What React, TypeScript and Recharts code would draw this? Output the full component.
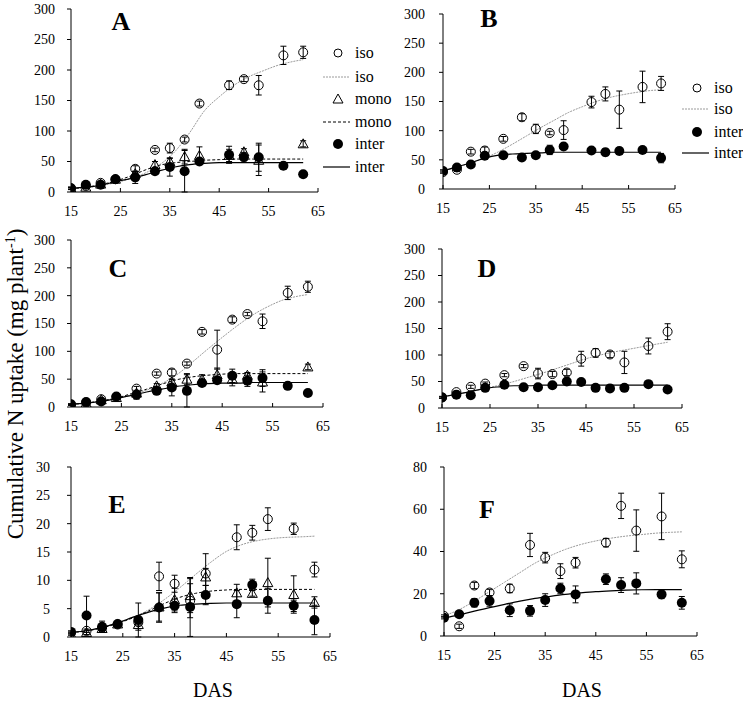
import React from 'react';
import { ComposedChart, Line, Scatter, XAxis, YAxis, ErrorBar } from 'recharts';

const DAYS = [15, 18, 21, 24, 28, 32, 35, 38, 41, 47, 50, 53, 58, 62];
const DAYS_44 = [15, 18, 21, 24, 28, 32, 35, 38, 41, 44, 47, 50, 53, 58, 62];
const CURVE_DAYS = [15, 18, 21, 24, 27, 30, 33, 36, 39, 42, 45, 48, 51, 54, 57, 60, 62];
const X_TICKS = [15, 25, 35, 45, 55, 65];
const Y_TICKS_300 = [0, 50, 100, 150, 200, 250, 300];
const Y_TICKS_30 = [0, 5, 10, 15, 20, 25, 30];
const Y_TICKS_80 = [0, 20, 40, 60, 80];

// Panel A
const A_ISO = [6, 10, 15, 21, 38, 69, 72, 86, 145, 175, 185, 175, 224, 229];
const A_ISO_ERR = [2, 2, 2, 2, 5, 3, 8, 4, 4, 7, 4, 16, 15, 10];
const A_MONO_DAYS = [15, 18, 21, 24, 28, 32, 35, 38, 41, 47, 50, 53, 62];
const A_MONO = [6, 8, 13, 21, 30, 45, 50, 58, 60, 60, 66, 52, 79];
const A_MONO_ERR = [1, 2, 2, 2, 4, 5, 5, 12, 14, 10, 5, 25, 5];
const A_INTER = [6, 12, 12, 21, 24, 34, 41, 34, 50, 61, 57, 57, 43, 29];
const A_INTER_ERR = [2, 3, 3, 2, 10, 4, 15, 34, 4, 14, 8, 23, 2, 2];
const A_ISO_FIT = [5, 7, 11, 15, 22, 31, 45, 66, 97, 133, 156, 175, 189, 199, 208, 214, 217];
const A_MONO_FIT = [6, 8, 12, 18, 26, 36, 44, 48, 50, 52, 53, 54, 54, 54, 54, 54, 54];
const A_INTER_FIT = [6, 8, 11, 17, 22, 28, 35, 41, 45, 47, 48, 48, 48, 48, 48, 48, 48];

// Panel B
const B_ISO = [29, 33, 64, 66, 86, 123, 103, 96, 101, 149, 163, 136, 175, 181];
const B_ISO_ERR = [2, 3, 4, 6, 4, 6, 8, 3, 16, 10, 12, 32, 27, 12];
const B_INTER = [31, 37, 42, 57, 58, 54, 58, 67, 73, 66, 63, 65, 67, 53];
const B_INTER_ERR = [2, 3, 3, 5, 3, 4, 3, 8, 3, 3, 6, 6, 3, 8];
const B_ISO_FIT = [31, 37, 45, 53, 64, 77, 91, 105, 118, 131, 141, 150, 157, 162, 166, 169, 170];
const B_INTER_FIT = [31, 38, 45, 53, 58, 60, 61, 62, 63, 63, 63, 63, 63, 63, 63, 63, 63];

// Panel C
const C_ISO = [4, 8, 14, 18, 33, 60, 62, 78, 135, 103, 157, 167, 154, 205, 216];
const C_ISO_ERR = [1, 2, 2, 2, 4, 3, 6, 3, 4, 35, 5, 3, 13, 12, 10];
const C_MONO_DAYS = [15, 18, 21, 24, 28, 32, 35, 38, 41, 44, 47, 50, 53, 62];
const C_MONO = [4, 7, 13, 17, 25, 38, 45, 50, 50, 58, 50, 57, 45, 72];
const C_MONO_ERR = [1, 2, 2, 2, 3, 4, 5, 10, 8, 12, 12, 5, 18, 5];
const C_INTER = [5, 9, 10, 19, 22, 29, 35, 29, 43, 48, 56, 47, 52, 38, 25];
const C_INTER_ERR = [1, 2, 2, 2, 8, 3, 15, 29, 3, 3, 12, 10, 15, 2, 2];
const C_ISO_FIT = [5, 7, 11, 16, 22, 30, 42, 58, 80, 103, 125, 146, 165, 180, 192, 199, 202];
const C_MONO_FIT = [5, 7, 11, 16, 24, 32, 41, 49, 54, 57, 59, 60, 60, 60, 60, 60, 60];
const C_INTER_FIT = [5, 7, 10, 15, 21, 27, 32, 37, 40, 42, 43, 43, 44, 44, 44, 44, 44];

// Panel D
const D_ISO = [20, 30, 40, 46, 62, 79, 65, 64, 67, 93, 104, 101, 86, 117, 144];
const D_ISO_ERR = [2, 2, 3, 3, 3, 3, 10, 5, 6, 14, 8, 6, 21, 15, 15];
const D_INTER = [20, 25, 24, 38, 44, 39, 39, 43, 50, 49, 38, 37, 38, 45, 35];
const D_INTER_ERR = [1, 2, 2, 2, 2, 2, 2, 3, 2, 2, 2, 2, 2, 2, 2];
const D_ISO_FIT = [21, 26, 31, 37, 43, 50, 58, 66, 75, 84, 93, 100, 106, 111, 116, 121, 124];
const D_INTER_FIT = [21, 26, 31, 37, 40, 42, 42, 43, 43, 43, 43, 43, 43, 43, 43, 43, 43];

// Panel E
const E_ISO = [0.7, 1.1, 1.6, 2.2, 2.6, 10.7, 9.4, 6.4, 11.2, 17.6, 18.4, 20.8, 19.1, 11.9];
const E_ISO_ERR = [0.2, 0.3, 0.4, 0.3, 0.5, 2.5, 1.5, 3, 3.5, 2.2, 1.3, 2, 1, 1.3];
const E_MONO = [0.5, 0.8, 1.5, 2.3, 2.2, 5.3, 6.6, 7.3, 10.6, 7.8, 7.7, 9.6, 7.5, 6.1];
const E_MONO_ERR = [0.2, 0.4, 0.5, 0.3, 1, 2.5, 2, 3, 1.5, 1.5, 0.5, 4.3, 3.3, 1];
const E_INTER = [0.9, 3.8, 1.8, 2.3, 3.0, 5.2, 5.5, 5.3, 7.4, 5.8, 9.2, 6.4, 5.5, 3.0];
const E_INTER_ERR = [0.2, 3.4, 1, 0.3, 3, 2.6, 1.2, 5.2, 1.7, 2.4, 1, 2.2, 1, 2.6];
const E_ISO_FIT = [0.7, 1.1, 1.7, 2.5, 3.5, 4.8, 6.6, 8.7, 11, 13.2, 15.1, 16.3, 17, 17.4, 17.6, 17.7, 17.8];
const E_MONO_FIT = [0.8, 1.1, 1.6, 2.4, 3.4, 4.6, 5.9, 7, 7.7, 8.1, 8.3, 8.4, 8.4, 8.4, 8.4, 8.4, 8.4];
const E_INTER_FIT = [0.8, 1.1, 1.7, 2.5, 3.5, 4.4, 5.1, 5.6, 5.8, 5.95, 6, 6, 6, 6, 6, 6, 6];

// Panel F
const F_ISO = [9.5, 4.6, 23.9, 20.6, 22.5, 43.1, 37.1, 30.7, 34.7, 44.2, 61.6, 49.9, 56.6, 36.3];
const F_ISO_ERR = [0.5, 1, 1.5, 1.5, 2, 5.5, 2.5, 3.5, 2.5, 2, 6, 9.8, 11, 4];
const F_INTER = [8.6, 10.3, 15.7, 16.6, 12.2, 11.9, 17, 22.5, 19.7, 26.9, 24.1, 24.9, 19.7, 15.7];
const F_INTER_ERR = [0.5, 0.8, 2, 2.5, 3, 2.5, 3, 2.5, 4, 2.5, 3.5, 5, 2, 3];
const F_ISO_FIT = [9.5, 12.5, 16.5, 21, 25.5, 30, 34.5, 38, 41, 43.3, 45, 46.3, 47.3, 48, 48.7, 49.1, 49.3];
const F_INTER_FIT = [8.5, 10, 11.8, 13.4, 15, 16.5, 17.8, 18.8, 19.7, 20.4, 21, 21.4, 21.7, 21.9, 22, 22, 22];

const SERIF = 'Liberation Serif, Tinos, Times New Roman, DejaVu Serif, serif';

type Pt = { x: number; y: number; e?: number };
const pts = (days: number[], ys: number[], es?: number[]): Pt[] =>
  days.map((d, i) => ({ x: d, y: ys[i], e: es ? es[i] : 0 }));

const OpenCircle = (p: any) => (
  <circle cx={p.cx} cy={p.cy} r={4.5} fill="none" stroke="#000" strokeWidth={1} />
);
const OpenTri = (p: any) => (
  <polygon
    points={`${p.cx},${p.cy - 5} ${p.cx - 5},${p.cy + 4} ${p.cx + 5},${p.cy + 4}`}
    fill="none"
    stroke="#000"
    strokeWidth={1}
  />
);
const FilledDot = (p: any) => <circle cx={p.cx} cy={p.cy} r={5} fill="#000" />;

type Fit = { data: Pt[]; stroke: string; dash?: string; width: number };
type Ser = { data: Pt[]; shape: any };

function Panel(props: {
  box: { left: number; top: number; width: number; height: number };
  plot: { x0: number; x1: number; y0: number; y1: number };
  yMax: number;
  yTicks: number[];
  tickMargin: number;
  fits: Fit[];
  series: Ser[];
}) {
  const { box, plot, yMax, yTicks, tickMargin, fits, series } = props;
  const xAxisH = 30;
  const margin = {
    left: 0,
    top: plot.y0 - box.top,
    right: box.left + box.width - plot.x1,
    bottom: box.top + box.height - plot.y1 - xAxisH,
  };
  const tickStyle = { fontFamily: SERIF, fontSize: 14, fill: '#000' };
  return (
    <div style={{ position: 'absolute', left: box.left, top: box.top, fontFamily: SERIF }}>
      <ComposedChart width={box.width} height={box.height} margin={margin} style={{ fontFamily: SERIF }}>
        <XAxis
          type="number"
          dataKey="x"
          domain={[15, 65]}
          ticks={X_TICKS}
          interval={0}
          height={xAxisH}
          tickSize={-4}
          tickMargin={18}
          tick={tickStyle}
          stroke="#000"
          axisLine={{ stroke: '#000' }}
          tickLine={{ stroke: '#000' }}
          allowDataOverflow
        />
        <YAxis
          type="number"
          domain={[0, yMax]}
          ticks={yTicks}
          interval={0}
          width={plot.x0 - box.left}
          tickSize={4}
          tickMargin={tickMargin}
          tick={tickStyle}
          stroke="#000"
          axisLine={{ stroke: '#000' }}
          tickLine={{ stroke: '#000' }}
          allowDataOverflow
        />
        {fits.map((f, i) => (
          <Line
            key={'f' + i}
            data={f.data}
            dataKey="y"
            type="monotone"
            dot={false}
            activeDot={false}
            stroke={f.stroke}
            strokeWidth={f.width}
            strokeDasharray={f.dash}
            isAnimationActive={false}
          />
        ))}
        {series.map((s, i) => (
          <Scatter key={'s' + i} data={s.data} dataKey="y" shape={s.shape} isAnimationActive={false}>
            <ErrorBar dataKey="e" direction="y" width={3} stroke="#000" strokeWidth={1} />
          </Scatter>
        ))}
      </ComposedChart>
    </div>
  );
}

const isoFit = (v: number[]): Fit => ({ data: pts(CURVE_DAYS, v), stroke: '#9a9a9a', dash: '2 1', width: 1 });
const monoFit = (v: number[]): Fit => ({ data: pts(CURVE_DAYS, v), stroke: '#000', dash: '3 2', width: 1 });
const interFit = (v: number[]): Fit => ({ data: pts(CURVE_DAYS, v), stroke: '#000', width: 1.2 });

function LegendItem({ x, y, kind, label }: { x: number; y: number; kind: string; label: string }) {
  let icon: any = null;
  if (kind === 'circle') icon = <circle cx={x + 15} cy={y} r={4} fill="none" stroke="#000" />;
  else if (kind === 'dot') icon = <circle cx={x + 15} cy={y} r={5} fill="#000" />;
  else if (kind === 'tri')
    icon = <polygon points={`${x + 15},${y - 5} ${x + 10},${y + 4} ${x + 20},${y + 4}`} fill="none" stroke="#000" />;
  else if (kind === 'isoLine') icon = <line x1={x} x2={x + 27} y1={y} y2={y} stroke="#9a9a9a" strokeDasharray="2 1" />;
  else if (kind === 'monoLine') icon = <line x1={x} x2={x + 27} y1={y} y2={y} stroke="#000" strokeDasharray="3 2" />;
  else icon = <line x1={x} x2={x + 27} y1={y} y2={y} stroke="#000" strokeWidth={1.2} />;
  return (
    <g>
      {icon}
      <text x={x + 32} y={y + 5} style={{ fontFamily: SERIF, fontSize: 16 }} fill="#000">
        {label}
      </text>
    </g>
  );
}

export default function App() {
  return (
    <div style={{ position: 'absolute', left: 0, top: 0, width: 743, height: 701, background: '#fff', fontFamily: SERIF }}>
      <Panel
        box={{ left: 0, top: 0, width: 370, height: 225 }}
        plot={{ x0: 71, x1: 318, y0: 9, y1: 192 }}
        yMax={300}
        yTicks={Y_TICKS_300}
        tickMargin={12}
        fits={[isoFit(A_ISO_FIT), monoFit(A_MONO_FIT), interFit(A_INTER_FIT)]}
        series={[
          { data: pts(DAYS, A_ISO, A_ISO_ERR), shape: OpenCircle },
          { data: pts(A_MONO_DAYS, A_MONO, A_MONO_ERR), shape: OpenTri },
          { data: pts(DAYS, A_INTER, A_INTER_ERR), shape: FilledDot },
        ]}
      />
      <Panel
        box={{ left: 372, top: 0, width: 371, height: 225 }}
        plot={{ x0: 443, x1: 675, y0: 14, y1: 189 }}
        yMax={300}
        yTicks={Y_TICKS_300}
        tickMargin={14}
        fits={[isoFit(B_ISO_FIT), interFit(B_INTER_FIT)]}
        series={[
          { data: pts(DAYS, B_ISO, B_ISO_ERR), shape: OpenCircle },
          { data: pts(DAYS, B_INTER, B_INTER_ERR), shape: FilledDot },
        ]}
      />
      <Panel
        box={{ left: 0, top: 225, width: 370, height: 225 }}
        plot={{ x0: 71, x1: 323, y0: 240, y1: 407 }}
        yMax={300}
        yTicks={Y_TICKS_300}
        tickMargin={12}
        fits={[isoFit(C_ISO_FIT), monoFit(C_MONO_FIT), interFit(C_INTER_FIT)]}
        series={[
          { data: pts(DAYS_44, C_ISO, C_ISO_ERR), shape: OpenCircle },
          { data: pts(C_MONO_DAYS, C_MONO, C_MONO_ERR), shape: OpenTri },
          { data: pts(DAYS_44, C_INTER, C_INTER_ERR), shape: FilledDot },
        ]}
      />
      <Panel
        box={{ left: 372, top: 225, width: 371, height: 225 }}
        plot={{ x0: 442, x1: 682, y0: 249, y1: 408 }}
        yMax={300}
        yTicks={Y_TICKS_300}
        tickMargin={13}
        fits={[isoFit(D_ISO_FIT), interFit(D_INTER_FIT)]}
        series={[
          { data: pts(DAYS_44, D_ISO, D_ISO_ERR), shape: OpenCircle },
          { data: pts(DAYS_44, D_INTER, D_INTER_ERR), shape: FilledDot },
        ]}
      />
      <Panel
        box={{ left: 0, top: 455, width: 370, height: 215 }}
        plot={{ x0: 71, x1: 330, y0: 467, y1: 637 }}
        yMax={30}
        yTicks={Y_TICKS_30}
        tickMargin={17}
        fits={[isoFit(E_ISO_FIT), monoFit(E_MONO_FIT), interFit(E_INTER_FIT)]}
        series={[
          { data: pts(DAYS, E_ISO, E_ISO_ERR), shape: OpenCircle },
          { data: pts(DAYS, E_MONO, E_MONO_ERR), shape: OpenTri },
          { data: pts(DAYS, E_INTER, E_INTER_ERR), shape: FilledDot },
        ]}
      />
      <Panel
        box={{ left: 372, top: 455, width: 371, height: 215 }}
        plot={{ x0: 444, x1: 697, y0: 467, y1: 636 }}
        yMax={80}
        yTicks={Y_TICKS_80}
        tickMargin={13}
        fits={[isoFit(F_ISO_FIT), interFit(F_INTER_FIT)]}
        series={[
          { data: pts(DAYS, F_ISO, F_ISO_ERR), shape: OpenCircle },
          { data: pts(DAYS, F_INTER, F_INTER_ERR), shape: FilledDot },
        ]}
      />
      <svg
        width={743}
        height={701}
        style={{ position: 'absolute', left: 0, top: 0, pointerEvents: 'none', fontFamily: SERIF }}
      >
        <g style={{ fontFamily: SERIF, fontWeight: 'bold', fontSize: 26 }} textAnchor="middle" fill="#000">
          <text x={121} y={30}>A</text>
          <text x={489} y={27}>B</text>
          <text x={118} y={277}>C</text>
          <text x={487} y={277}>D</text>
          <text x={117} y={513}>E</text>
          <text x={487} y={518}>F</text>
        </g>
        <LegendItem x={323} y={53} kind="circle" label="iso" />
        <LegendItem x={323} y={77} kind="isoLine" label="iso" />
        <LegendItem x={323} y={99} kind="tri" label="mono" />
        <LegendItem x={323} y={122} kind="monoLine" label="mono" />
        <LegendItem x={323} y={144} kind="dot" label="inter" />
        <LegendItem x={323} y={167} kind="interLine" label="inter" />
        <LegendItem x={682} y={88} kind="circle" label="iso" />
        <LegendItem x={682} y={109} kind="isoLine" label="iso" />
        <LegendItem x={682} y={132} kind="dot" label="inter" />
        <LegendItem x={682} y={153} kind="interLine" label="inter" />
        <text
          x={0}
          y={0}
          transform="translate(23,384) rotate(-90)"
          textAnchor="middle"
          style={{ fontFamily: SERIF, fontSize: 23 }}
          fill="#000"
        >
          Cumulative N uptake (mg plant
          <tspan dy={-8} style={{ fontSize: 14 }}>-1</tspan>
          <tspan dy={8}>)</tspan>
        </text>
        <text x={213} y={697} textAnchor="middle" style={{ fontFamily: SERIF, fontSize: 20 }} fill="#000">DAS</text>
        <text x={582} y={697} textAnchor="middle" style={{ fontFamily: SERIF, fontSize: 20 }} fill="#000">DAS</text>
      </svg>
    </div>
  );
}
